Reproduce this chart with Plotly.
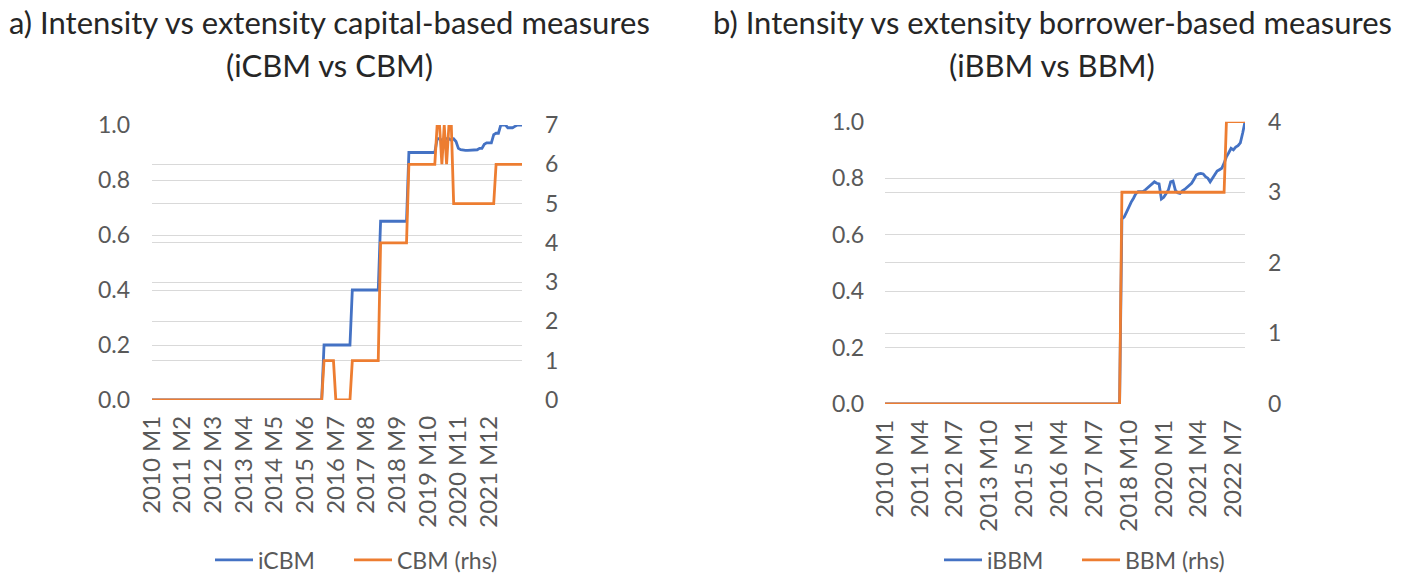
import plotly.graph_objects as go

# ---------------- data ----------------
START_YEAR = 2010
N_LEFT = 158   # 2010 M1 .. 2023 M2
N_RIGHT = 156  # 2010 M1 .. 2022 M12

left_months = [f"{START_YEAR + i // 12} M{i % 12 + 1}" for i in range(N_LEFT)]
right_months = [f"{START_YEAR + i // 12} M{i % 12 + 1}" for i in range(N_RIGHT)]

left_tick_labels = ["2010 M1", "2011 M2", "2012 M3", "2013 M4", "2014 M5", "2015 M6",
                    "2016 M7", "2017 M8", "2018 M9", "2019 M10", "2020 M11", "2021 M12"]
right_tick_labels = ["2010 M1", "2011 M4", "2012 M7", "2013 M10", "2015 M1", "2016 M4",
                     "2017 M7", "2018 M10", "2020 M1", "2021 M4", "2022 M7"]

icbm = [
    0, 0, 0, 0, 0, 0, 0, 0, 0, 0, 0, 0,            # 2010
    0, 0, 0, 0, 0, 0, 0, 0, 0, 0, 0, 0,            # 2011
    0, 0, 0, 0, 0, 0, 0, 0, 0, 0, 0, 0,            # 2012
    0, 0, 0, 0, 0, 0, 0, 0, 0, 0, 0, 0,            # 2013
    0, 0, 0, 0, 0, 0, 0, 0, 0, 0, 0, 0,            # 2014
    0, 0, 0, 0, 0, 0, 0, 0, 0, 0, 0, 0,            # 2015
    0, 0.2, 0.2, 0.2, 0.2, 0.2, 0.2, 0.2, 0.2, 0.2, 0.2, 0.2,          # 2016
    0.2, 0.4, 0.4, 0.4, 0.4, 0.4, 0.4, 0.4, 0.4, 0.4, 0.4, 0.4,        # 2017
    0.4, 0.65, 0.65, 0.65, 0.65, 0.65, 0.65, 0.65, 0.65, 0.65, 0.65, 0.65,  # 2018
    0.65, 0.9, 0.9, 0.9, 0.9, 0.9, 0.9, 0.9, 0.9, 0.9, 0.9, 0.9,       # 2019
    0.9, 0.95, 0.95, 0.945, 0.945, 0.95, 0.95, 0.945, 0.95, 0.94, 0.915, 0.91,  # 2020
    0.908, 0.908, 0.908, 0.908, 0.908, 0.91, 0.91, 0.915, 0.915, 0.93, 0.935, 0.935,  # 2021
    0.935, 0.965, 0.97, 0.97, 1.0, 1.0, 1.0, 0.99, 0.99, 0.99, 0.995, 1.0,  # 2022
    1.0, 1.0,                                        # 2023
]

cbm = [
    0, 0, 0, 0, 0, 0, 0, 0, 0, 0, 0, 0,            # 2010
    0, 0, 0, 0, 0, 0, 0, 0, 0, 0, 0, 0,            # 2011
    0, 0, 0, 0, 0, 0, 0, 0, 0, 0, 0, 0,            # 2012
    0, 0, 0, 0, 0, 0, 0, 0, 0, 0, 0, 0,            # 2013
    0, 0, 0, 0, 0, 0, 0, 0, 0, 0, 0, 0,            # 2014
    0, 0, 0, 0, 0, 0, 0, 0, 0, 0, 0, 0,            # 2015
    0, 1, 1, 1, 1, 1, 0, 0, 0, 0, 0, 0,            # 2016
    0, 1, 1, 1, 1, 1, 1, 1, 1, 1, 1, 1,            # 2017
    1, 4, 4, 4, 4, 4, 4, 4, 4, 4, 4, 4,            # 2018
    4, 6, 6, 6, 6, 6, 6, 6, 6, 6, 6, 6,            # 2019
    6, 7, 7, 6, 7, 6, 7, 7, 5, 5, 5, 5,            # 2020
    5, 5, 5, 5, 5, 5, 5, 5, 5, 5, 5, 5,            # 2021
    5, 5, 6, 6, 6, 6, 6, 6, 6, 6, 6, 6,            # 2022
    6, 6,                                           # 2023
]

ibbm = [
    0, 0, 0, 0, 0, 0, 0, 0, 0, 0, 0, 0,            # 2010
    0, 0, 0, 0, 0, 0, 0, 0, 0, 0, 0, 0,            # 2011
    0, 0, 0, 0, 0, 0, 0, 0, 0, 0, 0, 0,            # 2012
    0, 0, 0, 0, 0, 0, 0, 0, 0, 0, 0, 0,            # 2013
    0, 0, 0, 0, 0, 0, 0, 0, 0, 0, 0, 0,            # 2014
    0, 0, 0, 0, 0, 0, 0, 0, 0, 0, 0, 0,            # 2015
    0, 0, 0, 0, 0, 0, 0, 0, 0, 0, 0, 0,            # 2016
    0, 0, 0, 0, 0, 0, 0, 0, 0, 0, 0, 0,            # 2017
    0, 0, 0, 0, 0, 0, 0.655, 0.663, 0.68, 0.7, 0.715, 0.729,          # 2018
    0.745, 0.752, 0.752, 0.752, 0.758, 0.765, 0.77, 0.78, 0.787, 0.782, 0.78, 0.726,  # 2019
    0.732, 0.745, 0.758, 0.787, 0.79, 0.758, 0.748, 0.746, 0.755, 0.76, 0.768, 0.775,  # 2020
    0.782, 0.795, 0.811, 0.815, 0.817, 0.815, 0.805, 0.8, 0.787, 0.8, 0.811, 0.825,   # 2021
    0.83, 0.835, 0.853, 0.876, 0.89, 0.906, 0.9, 0.91, 0.915, 0.925, 0.96, 1.0,       # 2022
]

bbm = [
    0, 0, 0, 0, 0, 0, 0, 0, 0, 0, 0, 0,            # 2010
    0, 0, 0, 0, 0, 0, 0, 0, 0, 0, 0, 0,            # 2011
    0, 0, 0, 0, 0, 0, 0, 0, 0, 0, 0, 0,            # 2012
    0, 0, 0, 0, 0, 0, 0, 0, 0, 0, 0, 0,            # 2013
    0, 0, 0, 0, 0, 0, 0, 0, 0, 0, 0, 0,            # 2014
    0, 0, 0, 0, 0, 0, 0, 0, 0, 0, 0, 0,            # 2015
    0, 0, 0, 0, 0, 0, 0, 0, 0, 0, 0, 0,            # 2016
    0, 0, 0, 0, 0, 0, 0, 0, 0, 0, 0, 0,            # 2017
    0, 0, 0, 0, 0, 0, 3, 3, 3, 3, 3, 3,            # 2018
    3, 3, 3, 3, 3, 3, 3, 3, 3, 3, 3, 3,            # 2019
    3, 3, 3, 3, 3, 3, 3, 3, 3, 3, 3, 3,            # 2020
    3, 3, 3, 3, 3, 3, 3, 3, 3, 3, 3, 3,            # 2021
    3, 3, 3, 4, 4, 4, 4, 4, 4, 4, 4, 4,            # 2022
]

# ---------------- styling ----------------
BLUE = "#4472C4"
ORANGE = "#ED7D31"
GRID = "#d9d9d9"
TXT = "#595959"
FONT = "Lato"
W, H = 1410, 574
LW = 2.8

fig = go.Figure()
fig.add_trace(go.Scatter(x=left_months, y=icbm, name="iCBM", mode="lines",
                         line=dict(color=BLUE, width=LW), xaxis="x", yaxis="y", legend="legend"))
fig.add_trace(go.Scatter(x=left_months, y=cbm, name="CBM (rhs)", mode="lines",
                         line=dict(color=ORANGE, width=LW), xaxis="x", yaxis="y2", legend="legend2"))
fig.add_trace(go.Scatter(x=right_months, y=ibbm, name="iBBM", mode="lines",
                         line=dict(color=BLUE, width=LW), xaxis="x2", yaxis="y3", legend="legend3"))
fig.add_trace(go.Scatter(x=right_months, y=bbm, name="BBM (rhs)", mode="lines",
                         line=dict(color=ORANGE, width=LW), xaxis="x2", yaxis="y4", legend="legend4"))

xtickfont = dict(family=FONT, size=24, color=TXT)
ytickfont = dict(family=FONT, size=23, color=TXT)

def xax(domain, anchor, n, ticks):
    return dict(domain=domain, anchor=anchor, type="category", range=[0, n - 1],
                tickmode="array", tickvals=ticks, ticktext=ticks, tickangle=-90,
                showgrid=False, showline=False, zeroline=False, ticks="",
                tickfont=xtickfont, ticklabelstandoff=10, automargin=False)

def yax(domain, anchor, rng, dtick, fmt, side="left", overlay=None, standoff=18):
    d = dict(anchor=anchor, range=rng, dtick=dtick, tick0=0, tickformat=fmt, side=side,
             showgrid=True, gridcolor=GRID, gridwidth=1, zeroline=False, showline=False,
             ticks="", tickfont=ytickfont, ticklabelstandoff=standoff, automargin=False)
    if overlay:
        d["overlaying"] = overlay
    else:
        d["domain"] = domain
    return d

ldom_x = [152 / W, 522 / W]
ldom_y = [(H - 400) / H, (H - 125) / H]
rdom_x = [885 / W, 1245 / W]
rdom_y = [(H - 404) / H, (H - 121.7) / H]

legend_font = dict(family=FONT, size=23, color=TXT)

def legend_at(left_px):
    return dict(orientation="h", x=left_px / W, xanchor="left", y=(H - 560) / H, yanchor="middle",
                font=legend_font, bgcolor="rgba(0,0,0,0)", itemwidth=38)

fig.update_layout(
    width=W, height=H, margin=dict(l=0, r=0, t=0, b=0, autoexpand=False),
    paper_bgcolor="white", plot_bgcolor="white",
    font=dict(family=FONT, color=TXT),
    xaxis=xax(ldom_x, "y", N_LEFT, left_tick_labels),
    yaxis=yax(ldom_y, "x", [0, 1], 0.2, ".1f", standoff=21),
    yaxis2=yax(None, "x", [0, 7], 1, "d", side="right", overlay="y", standoff=22),
    xaxis2=xax(rdom_x, "y3", N_RIGHT, right_tick_labels),
    yaxis3=yax(rdom_y, "x2", [0, 1], 0.2, ".1f", standoff=20),
    yaxis4=yax(None, "x2", [0, 4], 1, "d", side="right", overlay="y3", standoff=22),
    legend=legend_at(210),
    legend2=legend_at(349),
    legend3=legend_at(939),
    legend4=legend_at(1077),
    showlegend=True,
)

title_font = dict(family=FONT, size=31, color="#262626")
titles = [
    ("a) Intensity vs extensity capital-based measures", 329, 22),
    ("(iCBM vs CBM)", 329, 65),
    ("b) Intensity vs extensity borrower-based measures", 1052, 22),
    ("(iBBM vs BBM)", 1052, 65),
]
for text, xc, yc in titles:
    fig.add_annotation(text=text, x=xc / W, y=(H - yc) / H, xref="paper", yref="paper",
                       xanchor="center", yanchor="middle", showarrow=False, font=title_font)

fig.write_html("out.html", config={"displayModeBar": False},
               post_script="document.body.style.margin='0';document.body.style.overflow='hidden';")
